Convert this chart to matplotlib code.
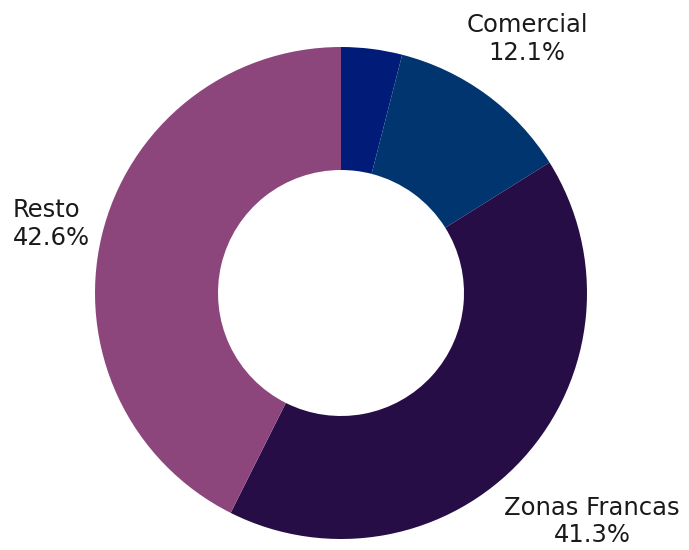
import numpy as np
import matplotlib
matplotlib.use("Agg")
import matplotlib.pyplot as plt

labels = ["", "Comercial", "Zonas Francas", "Resto"]
values = [4.0, 12.1, 41.3, 42.6]
colors = ["#001c78", "#003570", "#260d45", "#8c467c"]
label_dist = [0, 1.28, 1.38, 1.22]


def main():
    fig = plt.figure(figsize=(6.89, 5.50), dpi=100)
    ax = fig.add_axes([0, 0, 1, 1])

    wedges, _ = ax.pie(values, colors=colors, startangle=90, counterclock=False,
                       radius=1.0, wedgeprops=dict(width=0.5, linewidth=0))

    for w, lab, val, d in zip(wedges, labels, values, label_dist):
        if not lab:
            continue
        ang = np.deg2rad((w.theta1 + w.theta2) / 2)
        x, y = d * np.cos(ang), d * np.sin(ang)
        ha = "left" if lab == "Resto" else "center"
        if ha == "left":
            x -= 0.146
        ax.text(x, y, f"{lab}\n{val:.1f}%", ha=ha, va="center", fontsize=17.5,
                color="#1a1a1a", linespacing=1.2)

    ax.set_aspect("equal")
    ax.set_xlim(-341 / 246, (689 - 341) / 246)
    ax.set_ylim(-(550 - 293) / 246, 293 / 246)
    ax.axis("off")

    fig.savefig("out.png", dpi=100)


if __name__ == "__main__":
    main()
